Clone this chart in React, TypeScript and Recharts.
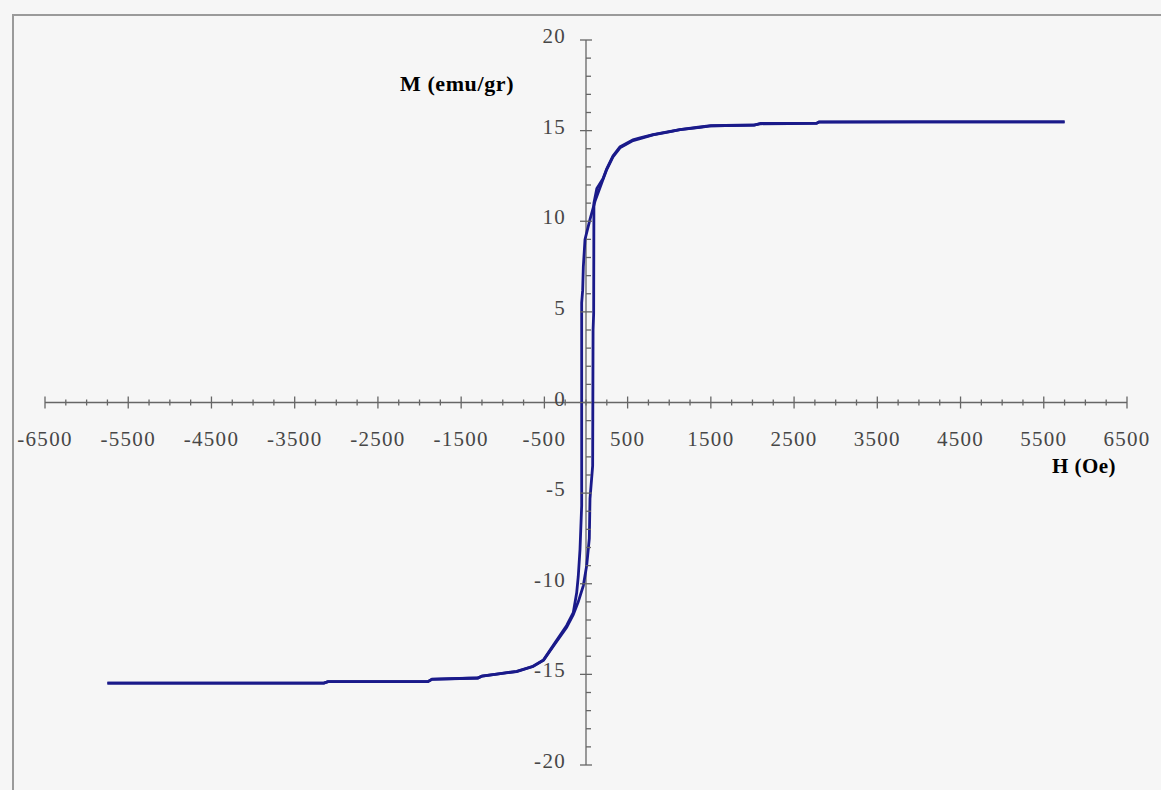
import { LineChart, Line, XAxis, YAxis, ReferenceLine } from 'recharts';

// descending branch, from +H saturation down to -H
const descH = [5750, 4000, 2800, 2770, 2100, 2020, 1500, 1370, 1129, 1045, 805, 650, 565, 408, 324, 249, 204, 108, 48, -12, -32, -40, -52, -52, -72, -93, -112, -153, -232, -393, -510, -637, -833, -1073, -1250, -1300, -1850, -1900, -3100, -3150, -5750];
const descM = [15.48, 15.48, 15.47, 15.4, 15.38, 15.3, 15.26, 15.18, 15.05, 14.97, 14.76, 14.56, 14.45, 14.05, 13.55, 12.85, 12.3, 11.1, 10.1, 9.0, 7.5, 6.2, 5.5, -5.7, -8.1, -9.6, -10.5, -11.6, -12.3, -13.4, -14.2, -14.55, -14.83, -14.98, -15.09, -15.2, -15.26, -15.4, -15.4, -15.48, -15.48];

// ascending branch, from -H saturation up to +H
const ascH = [-5750, -3150, -3100, -1900, -1850, -1300, -1250, -1073, -833, -637, -510, -393, -232, -153, -93, -32, 8, 40, 48, 80, 85, 92, 95, 130, 204, 249, 324, 408, 565, 650, 805, 1045, 1129, 1370, 1500, 2020, 2100, 2770, 2800, 4000, 5750];
const ascM = [-15.48, -15.48, -15.4, -15.4, -15.27, -15.2, -15.1, -14.98, -14.85, -14.57, -14.22, -13.45, -12.4, -11.7, -11.0, -10.1, -9.0, -7.5, -5.3, -3.5, 4.0, 4.9, 11.0, 11.8, 12.35, 12.9, 13.6, 14.1, 14.5, 14.6, 14.78, 14.98, 15.05, 15.2, 15.27, 15.31, 15.4, 15.41, 15.48, 15.48, 15.48];

const xTicks = [-6500, -6250, -6000, -5750, -5500, -5250, -5000, -4750, -4500, -4250, -4000, -3750, -3500, -3250, -3000, -2750, -2500, -2250, -2000, -1750, -1500, -1250, -1000, -750, -500, -250, 0, 250, 500, 750, 1000, 1250, 1500, 1750, 2000, 2250, 2500, 2750, 3000, 3250, 3500, 3750, 4000, 4250, 4500, 4750, 5000, 5250, 5500, 5750, 6000, 6250, 6500];
const xLabels = [-6500, -5500, -4500, -3500, -2500, -1500, -500, 500, 1500, 2500, 3500, 4500, 5500, 6500];

const yTicks = [-20, -19, -18, -17, -16, -15, -14, -13, -12, -11, -10, -9, -8, -7, -6, -5, -4, -3, -2, -1, 0, 1, 2, 3, 4, 5, 6, 7, 8, 9, 10, 11, 12, 13, 14, 15, 16, 17, 18, 19, 20];
const yLabels = [-20, -15, -10, -5, 0, 5, 10, 15, 20];

const descData = descH.map((h, i) => ({ h, m: descM[i] }));
const ascData = ascH.map((h, i) => ({ h, m: ascM[i] }));

const W = 1161;
const H = 790;
// axes take 1px each, so plot area runs x 45..1127, y 40..765
const margin = { top: 40, right: 34, bottom: 24, left: 44 };
const X0 = 45 + (1127 - 45) / 2;
const Y0 = 40 + (765 - 40) / 2;

const font = '"Liberation Serif", "Times New Roman", serif';
const axisColor = '#666';
const labelColor = '#474747';
const lineColor = '#1a1a8a';

const XTick = (props) => {
  const { x, payload } = props;
  const v = payload.value;
  const major = xLabels.includes(v);
  return (
    <g>
      <line x1={x} x2={x} y1={Y0 - (major ? 6 : 3)} y2={Y0 + (major ? 6 : 3)} stroke={axisColor} strokeWidth={1.3} />
      {major && (
        <text x={x} y={Y0 + 43} textAnchor="middle" fontFamily={font} fontSize={21} letterSpacing={1.3} fill={labelColor}>
          {v}
        </text>
      )}
    </g>
  );
};

const YTick = (props) => {
  const { y, payload } = props;
  const v = payload.value;
  const major = yLabels.includes(v);
  return (
    <g>
      {major ? (
        <line x1={X0 - 6} x2={X0 + 6} y1={y} y2={y} stroke={axisColor} strokeWidth={1.3} />
      ) : (
        <line x1={X0} x2={X0 + 5} y1={y} y2={y} stroke={axisColor} strokeWidth={1.3} />
      )}
      {major && (
        <text x={X0 - 20} y={y + 3} textAnchor="end" fontFamily={font} fontSize={21} letterSpacing={1.3} fill={labelColor}>
          {v}
        </text>
      )}
    </g>
  );
};

export default function App() {
  return (
    <div style={{ position: 'absolute', left: 0, top: 0, width: W, height: H, background: '#f6f6f6', overflow: 'hidden' }}>
      <div style={{ position: 'absolute', left: 12, top: 14, width: W, height: H, borderLeft: '2px solid #9a9a9a', borderTop: '2px solid #9a9a9a' }} />
      <div style={{ position: 'absolute', left: 0, top: 0 }}>
        <LineChart width={W} height={H} margin={margin}>
          <XAxis
            type="number"
            dataKey="h"
            domain={[-6500, 6500]}
            ticks={xTicks}
            interval={0}
            height={1}
            axisLine={false}
            tickLine={false}
            tick={XTick}
            allowDataOverflow
          />
          <YAxis
            type="number"
            domain={[-20, 20]}
            ticks={yTicks}
            interval={0}
            width={1}
            axisLine={false}
            tickLine={false}
            tick={YTick}
            allowDataOverflow
          />
          <ReferenceLine y={0} stroke={axisColor} strokeWidth={1.3} />
          <ReferenceLine x={0} stroke={axisColor} strokeWidth={1.3} />
          <Line data={descData} dataKey="m" type="linear" dot={false} stroke={lineColor} strokeWidth={2.8} isAnimationActive={false} />
          <Line data={ascData} dataKey="m" type="linear" dot={false} stroke={lineColor} strokeWidth={2.8} isAnimationActive={false} />
        </LineChart>
      </div>
      <div style={{ position: 'absolute', left: 457, top: 84, transform: 'translate(-50%, -50%)', fontFamily: font, fontWeight: 'bold', fontSize: 22, letterSpacing: 0.6, whiteSpace: 'nowrap', color: '#000' }}>
        M (emu/gr)
      </div>
      <div style={{ position: 'absolute', left: 1084, top: 466, transform: 'translate(-50%, -50%)', fontFamily: font, fontWeight: 'bold', fontSize: 21, letterSpacing: 0.5, whiteSpace: 'nowrap', color: '#000' }}>
        H (Oe)
      </div>
    </div>
  );
}
